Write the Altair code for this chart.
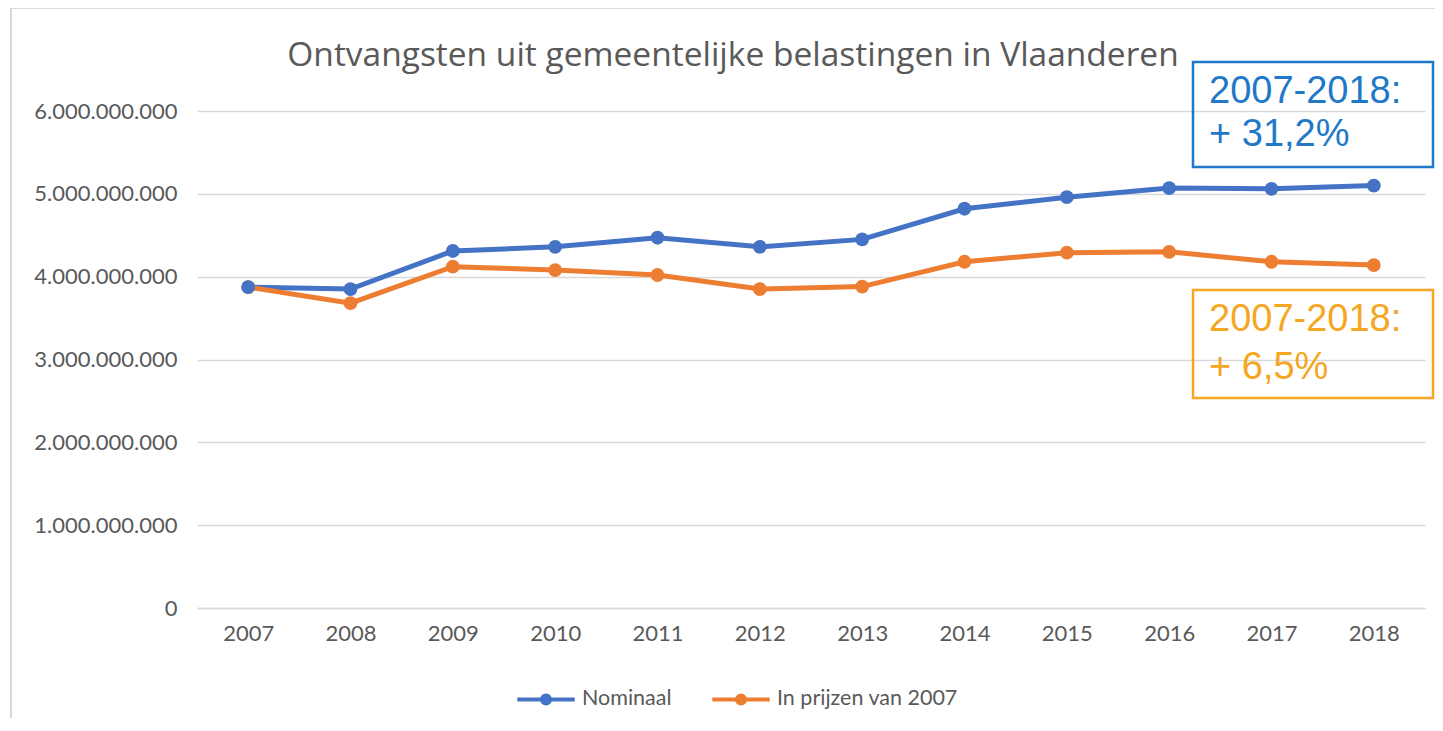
import altair as alt
import pandas as pd

# ---- data ----
years = ["2007", "2008", "2009", "2010", "2011", "2012",
         "2013", "2014", "2015", "2016", "2017", "2018"]
nominaal = [3.875e9, 3.85e9, 4.31e9, 4.36e9, 4.47e9, 4.36e9,
            4.45e9, 4.82e9, 4.96e9, 5.07e9, 5.06e9, 5.10e9]
prijzen_2007 = [3.875e9, 3.68e9, 4.12e9, 4.08e9, 4.02e9, 3.85e9,
                3.88e9, 4.18e9, 4.29e9, 4.30e9, 4.18e9, 4.14e9]
series_names = ["Nominaal", "In prijzen van 2007"]
series_colors = ["#4472C4", "#ED7D31"]
y_ticks = [0, 1e9, 2e9, 3e9, 4e9, 5e9, 6e9]
title_text = "Ontvangsten uit gemeentelijke belastingen in Vlaanderen"
note_blue = ["2007-2018:", "+ 31,2%"]
note_orange = ["2007-2018:", "+ 6,5%"]

rows = []
for i, y in enumerate(years):
    rows.append({"jaar": y, "reeks": series_names[0], "waarde": nominaal[i]})
    rows.append({"jaar": y, "reeks": series_names[1], "waarde": prijzen_2007[i]})
df = pd.DataFrame(rows)

W, H = 1228, 497
GRID = "#D9D9D9"
TXT = "#595959"

legend_path = ("M-1,0L1,0M-0.14,0a0.14,0.14 0 1,0 0.28,0"
               "a0.14,0.14 0 1,0 -0.28,0")

lines = alt.Chart(df).mark_line(
    point=alt.OverlayMarkDef(size=190, filled=True),
    strokeWidth=5,
).encode(
    x=alt.X("jaar:O", sort=years, title=None,
            axis=alt.Axis(labelAngle=0, labelFontSize=22, labelColor=TXT,
                          labelFont="Lato", labelPadding=15, ticks=False,
                          domainColor=GRID, domainWidth=1.5, grid=False)),
    y=alt.Y("waarde:Q", title=None,
            scale=alt.Scale(domain=[0, 6e9], nice=False),
            axis=alt.Axis(values=y_ticks, labelFontSize=22, labelColor=TXT,
                          labelFont="Lato", labelPadding=20, ticks=False,
                          domain=False, gridColor=GRID, gridWidth=1.5,
                          labelExpr="replace(format(datum.value, ',d'), regexp(',', 'g'), '.')")),
    color=alt.Color("reeks:N", sort=series_names,
                    scale=alt.Scale(domain=series_names, range=series_colors),
                    legend=alt.Legend(title=None, orient="none", direction="horizontal",
                                      legendX=318, legendY=557,
                                      symbolType=legend_path, symbolSize=3300,
                                      symbolStrokeWidth=4, labelFontSize=21.5,
                                      labelFont="Lato", labelColor=TXT,
                                      labelLimit=400,
                                      labelOffset=5, columnPadding=32)),
    order=alt.Order("reeks:N"),
)

frame = alt.Chart(pd.DataFrame({"k": [0]})).mark_rect(
    fill=None, stroke="#D9D9D9", strokeWidth=2
).encode(x=alt.value(-186), x2=alt.value(2000),
         y=alt.value(-103), y2=alt.value(900))

title = alt.Chart(pd.DataFrame({"t": [title_text]})).mark_text(
    align="center", baseline="alphabetic", fontSize=33.5, font="Open Sans",
    color=TXT
).encode(x=alt.value(536), y=alt.value(-45), text="t:N")

def note(lines_txt, color, top, bottom, y1, y2):
    box = alt.Chart(pd.DataFrame({"k": [0]})).mark_rect(
        fill=None, stroke=color, strokeWidth=2.5
    ).encode(x=alt.value(996), x2=alt.value(1236),
             y=alt.value(top), y2=alt.value(bottom))
    tdf = pd.DataFrame({"t": lines_txt, "yy": [y1, y2]})
    txt = alt.Chart(tdf).mark_text(
        align="left", baseline="middle", fontSize=38,
        font="Liberation Sans", color=color
    ).encode(x=alt.value(1012), y=alt.Y("yy:Q", scale=None), text="t:N")
    return box + txt

blue_note = note(note_blue, "#1F78C8", -49, 56, -19, 24)
orange_note = note(note_orange, "#F5A623", 179, 287, 209, 257)

chart = alt.layer(frame, title, lines, blue_note, orange_note).properties(
    width=W, height=H,
    autosize=alt.AutoSizeParams(type="none"),
    padding={"left": 189, "top": 103, "right": 10, "bottom": 110},
).configure_view(stroke=None)

chart.save("out.html", embed_options={"renderer": "svg", "actions": False})
